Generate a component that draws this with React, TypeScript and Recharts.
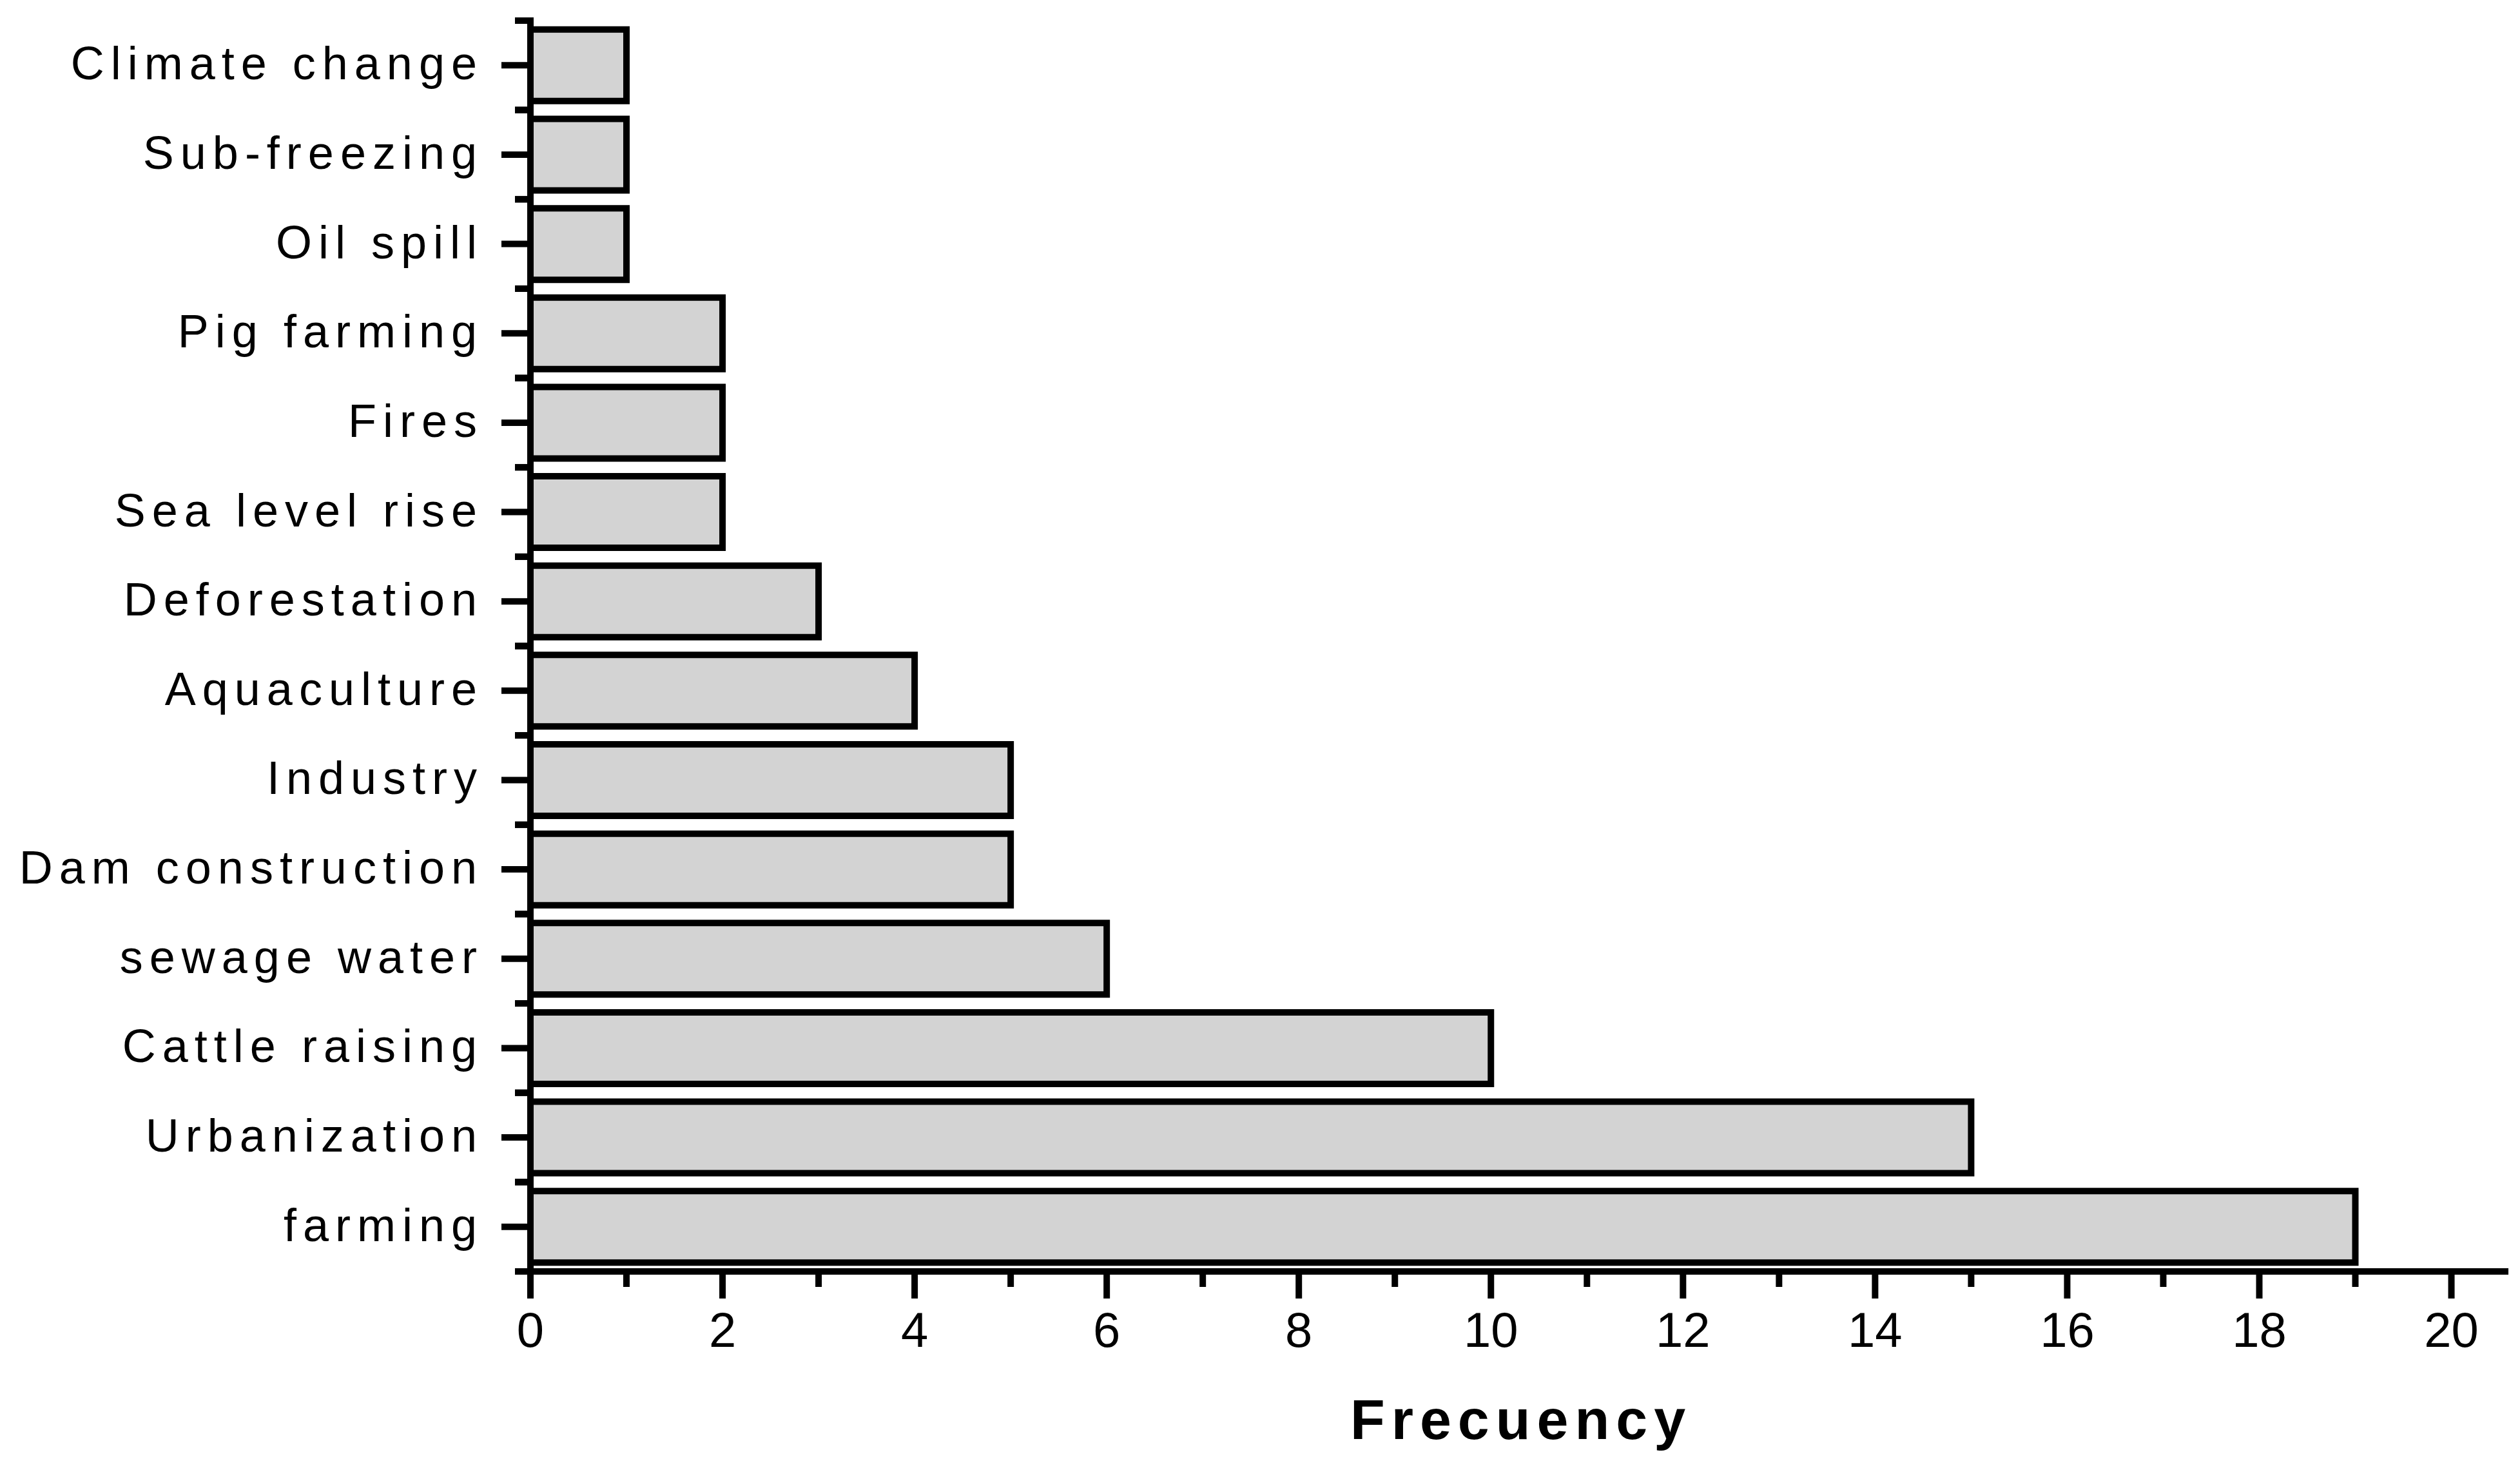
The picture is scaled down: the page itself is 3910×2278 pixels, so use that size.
import { BarChart, Bar, XAxis, YAxis, Label } from 'recharts'

const causes = [
  'Climate change',
  'Sub-freezing',
  'Oil spill',
  'Pig farming',
  'Fires',
  'Sea level rise',
  'Deforestation',
  'Aquaculture',
  'Industry',
  'Dam construction',
  'sewage water',
  'Cattle raising',
  'Urbanization',
  'farming',
]
const frequency = [1, 1, 1, 2, 2, 2, 3, 4, 5, 5, 6, 10, 15, 19]
const xTicks = [0, 1, 2, 3, 4, 5, 6, 7, 8, 9, 10, 11, 12, 13, 14, 15, 16, 17, 18, 19, 20]
const xMax = 20.56

const W = 3910
const H = 2278
const TOP = 32
const X_AXIS_H = 305
const Y_AXIS_W = 823
const FONT = '"Liberation Sans", Arial, sans-serif'

const data = causes.map((name, i) => ({ name, value: frequency[i] }))
const band = (H - TOP - X_AXIS_H) / causes.length

// y ticks: long tick + label at the band centre, short ticks on the band edges
function CauseTick({ x, y, payload }: any) {
  return (
    <g>
      <line x1={x - 45} x2={x} y1={y} y2={y} stroke="#000" strokeWidth={10} />
      <line x1={x - 24} x2={x} y1={y - band / 2} y2={y - band / 2} stroke="#000" strokeWidth={10} />
      <line x1={x - 24} x2={x} y1={y + band / 2} y2={y + band / 2} stroke="#000" strokeWidth={10} />
      <text x={x - 73} y={y + 22} textAnchor="end" fontSize={72} letterSpacing={10} fontFamily={FONT} fill="#000">
        {payload.value}
      </text>
    </g>
  )
}

// x ticks: even values get a long tick and a label, odd ones a short tick
function FreqTick({ x, y, payload }: any) {
  const major = payload.value % 2 === 0
  return (
    <g>
      <line x1={x} x2={x} y1={y} y2={y + (major ? 42 : 24)} stroke="#000" strokeWidth={10} />
      {major && (
        <text x={x} y={y + 117} textAnchor="middle" fontSize={76} fontFamily={FONT} fill="#000">
          {payload.value}
        </text>
      )}
    </g>
  )
}

function FreqLabel({ viewBox }: any) {
  const { x, y, width } = viewBox
  return (
    <text x={x + width / 2 + 5} y={y + 260} textAnchor="middle" fontSize={88} fontWeight="bold"
      letterSpacing={10} fontFamily={FONT} fill="#000">
      Frecuency
    </text>
  )
}

export default function App() {
  return (
    <div style={{ position: 'absolute', left: 0, top: 0, width: W, height: H, background: '#fff' }}>
      <BarChart width={W} height={H} data={data} layout="vertical" barCategoryGap="10%"
        margin={{ top: TOP, right: 23, bottom: 0, left: 0 }}>
        <XAxis type="number" domain={[0, xMax]} ticks={xTicks} interval={0} height={X_AXIS_H}
          tickSize={0} tickMargin={0} tickLine={false} tick={<FreqTick />}
          axisLine={{ stroke: '#000', strokeWidth: 10, strokeLinecap: 'square' }} allowDataOverflow>
          <Label content={<FreqLabel />} />
        </XAxis>
        <YAxis type="category" dataKey="name" width={Y_AXIS_W} interval={0}
          tickSize={0} tickMargin={0} tickLine={false} tick={<CauseTick />}
          axisLine={{ stroke: '#000', strokeWidth: 10, strokeLinecap: 'square' }} />
        <Bar dataKey="value" fill="#d3d3d3" stroke="#000" strokeWidth={10} isAnimationActive={false} />
      </BarChart>
    </div>
  )
}
